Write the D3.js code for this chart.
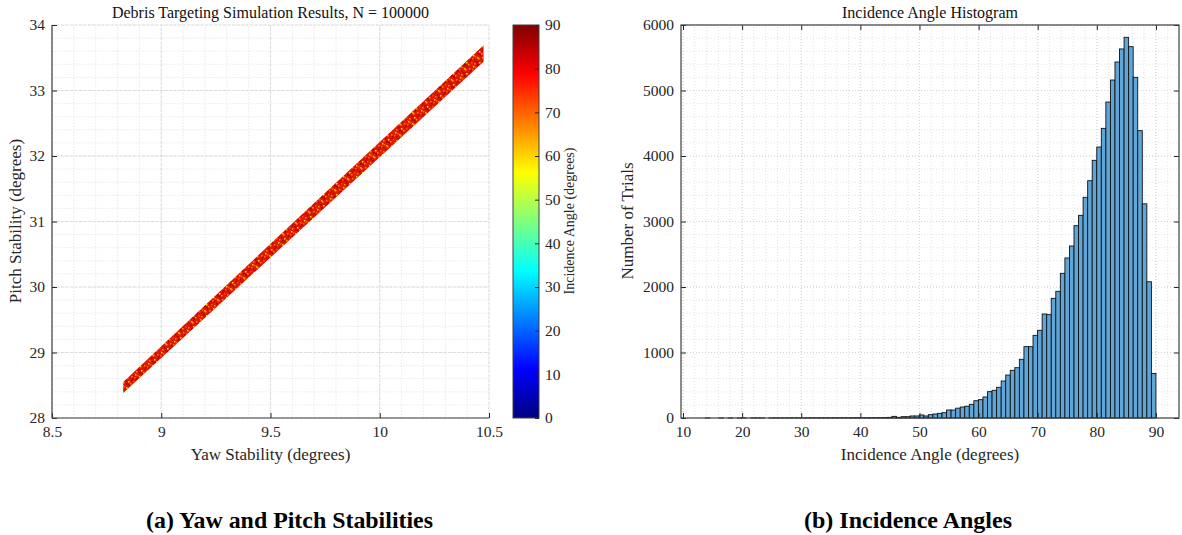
<!DOCTYPE html>
<html>
<head>
<meta charset="utf-8">
<script src="https://cdn.jsdelivr.net/npm/d3@7"></script>
<style>
  body { margin: 0; background: #fff; }
  svg { display: block; }
  .axis .domain { display: none; }
  .axis line { stroke: #262626; }
</style>
</head>
<body>
<div id="chart"></div>
<script>
// ---- data ----
var yawTicks = [8.5, 9, 9.5, 10, 10.5];
var pitchTicks = [28, 29, 30, 31, 32, 33, 34];
var cbarTicks = [0, 10, 20, 30, 40, 50, 60, 70, 80, 90];
var angleTicks = [10, 20, 30, 40, 50, 60, 70, 80, 90];
var trialTicks = [0, 1000, 2000, 3000, 4000, 5000, 6000];

// outline of the scatter band (yaw vs pitch limits)
var bandYaw = [8.826, 9.5, 10.475];
var bandPitchLow = [28.38, 30.45, 33.44];
var bandPitchHigh = [28.55, 30.66, 33.69];

// histogram: bin width and last edge, counts left to right
var binWidth = 0.77;
var binEnd = 90;
var trialCounts = [
  0, 0, 1, 0, 0, 1, 0, 1, 0, 1, 1, 0, 1, 1, 1, 0, 1, 2, 1, 1,
  2, 1, 2, 2, 2, 3, 2, 3, 3, 2, 4, 3, 4, 3, 4, 5, 4, 5, 5,
  5, 6, 8, 10, 25, 10, 20, 20, 31, 31, 46, 31, 51, 61, 71, 81, 122, 122, 150,
  168, 179, 209, 264, 280, 321, 402, 423, 469, 565, 656, 728, 768, 896, 1089, 1089,
  1262, 1339, 1588, 1578, 1827, 1934, 2209, 2443, 2626, 2936, 3094, 3369, 3623, 3934,
  4137, 4422, 4824, 5160, 5435, 5634, 5812, 5669, 5201, 4387, 3270, 2080, 680
];

var jetStops = ["#00007f", "#0000ff", "#007fff", "#00ffff", "#7fff7f", "#ffff00", "#ff7f00", "#ff0000", "#7f0000"];
var SERIF = "'Liberation Serif', 'Times New Roman', serif";

var W = 1182, H = 535;
var svg = d3.select("#chart").append("svg").attr("width", W).attr("height", H)
    .style("font-family", SERIF);
var defs = svg.append("defs");

// ---- speckle pattern for the band ----
var pat = defs.append("pattern").attr("id", "speck")
    .attr("patternUnits", "userSpaceOnUse").attr("width", 13).attr("height", 11);
pat.append("rect").attr("width", 13).attr("height", 11).attr("fill", "#dd1800");
[[1, 2, "#ff7a00"], [5, 0, "#ffd000"], [8, 6, "#b00000"], [3, 7, "#ff4a00"], [10, 3, "#ffa000"],
 [6, 4, "#c00000"], [0, 9, "#ff9000"], [9, 9, "#900000"], [2, 4, "#a80000"], [7, 1, "#ff5a00"],
 [11, 7, "#ffe000"], [4, 10, "#ff3000"], [12, 0, "#b80000"], [6, 8, "#ff8a00"], [9, 2, "#ffc000"],
 [1, 6, "#c80000"], [4, 3, "#ff6000"], [11, 10, "#a00000"]].forEach(function(s) {
  pat.append("rect").attr("x", s[0]).attr("y", s[1]).attr("width", 1.5).attr("height", 1.5).attr("fill", s[2]);
});

var grad = defs.append("linearGradient").attr("id", "jet")
    .attr("x1", 0).attr("y1", 1).attr("x2", 0).attr("y2", 0);
jetStops.forEach(function(c, i) {
  grad.append("stop").attr("offset", i / (jetStops.length - 1)).attr("stop-color", c);
});

function gridLines(g, xs, ys, x, y, cls, color, dash) {
  var gg = g.append("g").attr("class", cls).attr("stroke", color).attr("stroke-width", 0.8)
      .attr("stroke-dasharray", dash);
  gg.selectAll(".gx").data(xs).enter().append("line")
      .attr("x1", function(d) { return x(d); }).attr("x2", function(d) { return x(d); })
      .attr("y1", y.range()[0]).attr("y2", y.range()[1]);
  gg.selectAll(".gy").data(ys).enter().append("line")
      .attr("y1", function(d) { return y(d); }).attr("y2", function(d) { return y(d); })
      .attr("x1", x.range()[0]).attr("x2", x.range()[1]);
}

// axis labels in the serif face, like the original
function fixFont(sel) {
  sel.attr("font-family", null).attr("font-size", null);
  sel.selectAll("text").style("font-family", SERIF).style("font-size", "15.5px").style("fill", "#262626");
}

// ================= left: scatter band =================
var x1 = d3.scaleLinear().domain([8.5, 10.5]).range([52, 489]);
var y1 = d3.scaleLinear().domain([28, 34]).range([418, 25]);
var gL = svg.append("g");

gridLines(gL, d3.range(8.5, 10.51, 0.1), d3.range(28, 34.01, 0.2), x1, y1, "minor", "#e3e3e3", "1.5,1.5");
gridLines(gL, yawTicks, pitchTicks, x1, y1, "major", "#d6d6d6", "3,1.5");

var bandPts = bandYaw.map(function(d, i) { return [x1(d), y1(bandPitchHigh[i])]; })
    .concat(bandYaw.slice().reverse().map(function(d, i) {
      return [x1(d), y1(bandPitchLow[bandYaw.length - 1 - i])];
    }));
gL.append("path").attr("d", d3.line()(bandPts) + "Z").attr("fill", "url(#speck)");

gL.append("g").attr("class", "axis").attr("transform", "translate(0,418)")
    .call(d3.axisBottom(x1).tickValues(yawTicks).tickSize(-5).tickPadding(8).tickFormat(d3.format("")))
    .call(fixFont);
gL.append("g").attr("class", "axis").attr("transform", "translate(52,0)")
    .call(d3.axisLeft(y1).tickValues(pitchTicks).tickSize(-5).tickPadding(7).tickFormat(d3.format("d")))
    .call(fixFont);
gL.append("line").attr("x1", 52).attr("x2", 489).attr("y1", 418).attr("y2", 418).attr("stroke", "#404040").attr("stroke-width", 1.2);
gL.append("line").attr("x1", 52).attr("x2", 52).attr("y1", 25).attr("y2", 418).attr("stroke", "#404040").attr("stroke-width", 1.2);

gL.append("text").attr("x", 270.5).attr("y", 18).attr("text-anchor", "middle")
    .style("font-size", "16px").attr("fill", "#111")
    .text("Debris Targeting Simulation Results, N = 100000");
gL.append("text").attr("x", 270.5).attr("y", 460).attr("text-anchor", "middle")
    .style("font-size", "17px").attr("fill", "#262626").text("Yaw Stability (degrees)");
gL.append("text").attr("transform", "translate(21,221) rotate(-90)").attr("text-anchor", "middle")
    .style("font-size", "17px").attr("fill", "#262626").text("Pitch Stability (degrees)");

// colorbar
var yc = d3.scaleLinear().domain([0, 90]).range([418, 25]);
var gC = svg.append("g");
gC.append("rect").attr("x", 513).attr("y", 25).attr("width", 26).attr("height", 393)
    .attr("fill", "url(#jet)").attr("stroke", "#404040").attr("stroke-width", 1);
gC.append("g").attr("class", "axis").attr("transform", "translate(539,0)")
    .call(d3.axisRight(yc).tickValues(cbarTicks).tickSize(-4).tickPadding(6))
    .call(fixFont);
gC.append("text").attr("transform", "translate(574,221) rotate(-90)").attr("text-anchor", "middle")
    .style("font-size", "14px").attr("fill", "#262626").text("Incidence Angle (degrees)");

// ================= right: histogram =================
var x2 = d3.scaleLinear().domain([9.66, 93.9]).range([681, 1179]);
var y2 = d3.scaleLinear().domain([0, 6000]).range([418, 25]);
var gR = svg.append("g");

gridLines(gR, d3.range(10, 93, 2), d3.range(0, 6001, 200), x2, y2, "minor", "#dadada", "1,2");
gridLines(gR, angleTicks, trialTicks, x2, y2, "major", "#cfcfcf", "1,2");

var n = trialCounts.length;
gR.selectAll(".bar").data(trialCounts).enter().append("rect")
    .attr("class", "bar")
    .attr("x", function(d, i) { return x2(binEnd - (n - i) * binWidth); })
    .attr("width", function(d, i) { return x2(binEnd - (n - i - 1) * binWidth) - x2(binEnd - (n - i) * binWidth); })
    .attr("y", function(d) { return y2(d); })
    .attr("height", function(d) { return 418 - y2(d); })
    .attr("fill", "#5fa6d8").attr("stroke", "#111").attr("stroke-width", 0.9);

gR.append("g").attr("class", "axis").attr("transform", "translate(0,418)")
    .call(d3.axisBottom(x2).tickValues(angleTicks).tickSize(-5).tickPadding(8))
    .call(fixFont);
gR.append("g").attr("class", "axis").attr("transform", "translate(0,25)")
    .call(d3.axisTop(x2).tickValues(angleTicks).tickSize(-5).tickFormat(""));
gR.append("g").attr("class", "axis").attr("transform", "translate(681,0)")
    .call(d3.axisLeft(y2).tickValues(trialTicks).tickSize(-5).tickPadding(7).tickFormat(d3.format("d")))
    .call(fixFont);
gR.append("g").attr("class", "axis").attr("transform", "translate(1179,0)")
    .call(d3.axisRight(y2).tickValues(trialTicks).tickSize(-5).tickFormat(""));
gR.append("rect").attr("x", 681).attr("y", 25).attr("width", 498).attr("height", 393)
    .attr("fill", "none").attr("stroke", "#404040").attr("stroke-width", 1.2);

gR.append("text").attr("x", 930).attr("y", 18).attr("text-anchor", "middle")
    .style("font-size", "16px").attr("fill", "#111").text("Incidence Angle Histogram");
gR.append("text").attr("x", 930).attr("y", 460).attr("text-anchor", "middle")
    .style("font-size", "17px").attr("fill", "#262626").text("Incidence Angle (degrees)");
gR.append("text").attr("transform", "translate(633,221) rotate(-90)").attr("text-anchor", "middle")
    .style("font-size", "17px").attr("fill", "#262626").text("Number of Trials");

// ================= captions =================
svg.append("text").attr("x", 289.5).attr("y", 528).attr("text-anchor", "middle")
    .style("font-family", SERIF).style("font-size", "24px").style("font-weight", "bold")
    .attr("textLength", 287).attr("lengthAdjust", "spacingAndGlyphs")
    .text("(a) Yaw and Pitch Stabilities");
svg.append("text").attr("x", 908).attr("y", 528).attr("text-anchor", "middle")
    .style("font-family", SERIF).style("font-size", "24px").style("font-weight", "bold")
    .attr("textLength", 208).attr("lengthAdjust", "spacingAndGlyphs")
    .text("(b) Incidence Angles");
</script>
</body>
</html>
